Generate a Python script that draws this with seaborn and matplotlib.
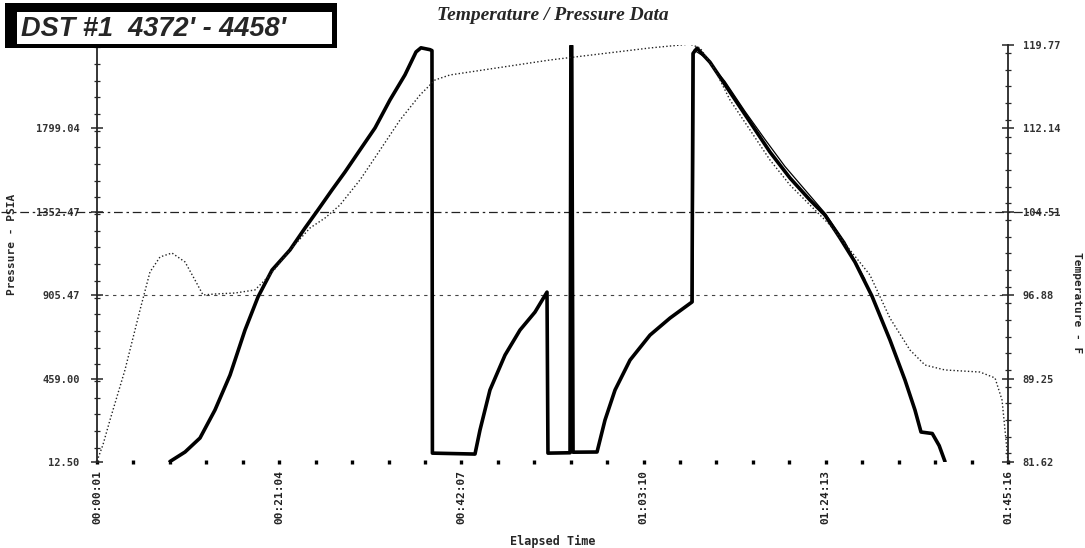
import matplotlib
matplotlib.use("Agg")
import matplotlib.pyplot as plt
import seaborn as sns
import pandas as pd
from matplotlib.patches import Rectangle
from matplotlib.ticker import FixedLocator, MultipleLocator

# ---------------- data (elapsed minutes, psia, deg F) ----------------
time_p = [8.43, 10.17, 11.90, 13.63, 15.37, 17.10, 18.60, 20.22, 22.30, 24.03,
          25.53, 27.15, 28.65, 30.38, 32.12, 33.85, 35.58, 36.86, 37.43, 38.47,
          38.70, 38.75, 43.67, 44.25, 45.40, 47.14, 48.87, 50.60, 51.99, 52.10,
          54.65, 54.75, 54.85, 55.00, 57.77, 58.69, 59.85, 61.58, 63.89, 66.20,
          68.74, 68.86, 69.32, 70.82, 73.13, 75.44, 77.75, 80.06, 82.37, 84.10,
          85.84, 87.57, 89.53, 91.61, 93.35, 94.50, 95.20, 96.50, 97.30, 97.97]
pres = [15, 66, 141, 291, 478, 719, 896, 1040, 1148, 1265,
        1362, 1469, 1565, 1683, 1801, 1951, 2085, 2208, 2230, 2220,
        2215, 60, 55, 184, 398, 585, 719, 815, 922, 60,
        62, 2240, 2240, 65, 66, 237, 398, 558, 692, 783,
        869, 2200, 2228, 2153, 1993, 1833, 1672, 1533, 1415, 1335,
        1212, 1083, 901, 666, 451, 291, 173, 165, 100, 15]

time_p2 = [68.86, 68.97, 70.24, 72.55, 74.86, 77.17, 79.48, 81.79, 84.10, 86.41, 88.72]
pres2 = [869, 2218, 2180, 2050, 1890, 1740, 1595, 1470, 1345, 1190, 990]

time_t = [0.0, 0.69, 1.50, 3.23, 4.97, 6.12, 7.28, 8.66, 10.17, 11.32,
          12.25, 13.63, 15.94, 18.25, 19.99, 22.30, 24.61, 26.34, 28.07, 30.38,
          32.70, 35.01, 37.32, 39.05, 40.78, 52.34, 63.89, 68.51, 69.67, 71.40,
          73.13, 75.44, 77.75, 80.06, 82.37, 84.68, 86.99, 89.30, 91.61, 93.92,
          95.66, 97.97, 102.01, 103.75, 104.56, 105.02, 105.25]
temp = [81.7, 83.2, 85.46, 90.04, 95.53, 99.00, 100.38, 100.74, 99.92, 98.27,
        96.90, 96.99, 97.08, 97.36, 98.73, 101.02, 103.03, 103.94, 105.13, 107.42,
        110.16, 112.91, 115.20, 116.57, 117.03, 118.40, 119.50, 119.85, 119.5, 117.48,
        114.74, 112.0, 109.25, 106.96, 105.13, 103.30, 101.02, 98.73, 94.79, 91.87,
        90.49, 90.04, 89.85, 89.31, 87.29, 83.63, 81.62]

x_ticks = [0, 21.05, 42.10, 63.15, 84.20, 105.25]
x_labels = ["00:00:01", "00:21:04", "00:42:07", "01:03:10", "01:24:13", "01:45:16"]
p_ticks = [12.50, 459.00, 905.50, 1352.00, 1798.50, 2245.00]
p_labels = ["12.50", "459.00", "905.47", "1352.47", "1799.04", ""]
t_ticks = [81.62, 89.25, 96.88, 104.51, 112.14, 119.77]
t_labels = ["81.62", "89.25", "96.88", "104.51", "112.14", "119.77"]

title = "Temperature / Pressure Data"
box_text = "DST #1  4372' - 4458'"
x_title = "Elapsed Time"
p_title = "Pressure - PSIA"
t_title = "Temperature - F"

# ---------------- figure ----------------
sns.set_style("white")
plt.rcParams["font.family"] = ["DejaVu Sans"]
mono = "DejaVu Sans Mono"
W, H = 1085, 548
fig = plt.figure(figsize=(W / 100, H / 100), dpi=100)
ax = fig.add_axes([97 / W, 1 - 462 / H, 911 / W, 417 / H])
ax.set_facecolor("none")
ax2 = ax.twinx()

dfp = pd.DataFrame({"t": time_p, "p": pres})
dfp2 = pd.DataFrame({"t": time_p2, "p": pres2})
dft = pd.DataFrame({"t": time_t, "T": temp})

sns.lineplot(data=dfp, x="t", y="p", ax=ax, sort=False, estimator=None,
             color="black", lw=2.6, zorder=5)
sns.lineplot(data=dfp2, x="t", y="p", ax=ax, sort=False, estimator=None,
             color="black", lw=0.9, zorder=4)
sns.lineplot(data=dft, x="t", y="T", ax=ax2, sort=False, estimator=None,
             color="#222222", lw=1.0, ls=(0, (1, 1.6)), zorder=3)

ax.set_xlim(0, 105.25)
ax.set_ylim(12.5, 2245)
ax2.set_ylim(81.62, 119.77)

# reference lines
ax.axhline(1352.0, xmin=-0.105, xmax=1.055, color="#222222", lw=0.9,
           ls=(0, (7, 3, 2, 3)), clip_on=False, zorder=2)
ax.axhline(905.5, color="#444444", lw=0.8, ls=(0, (3, 4)), zorder=2)

# spines
for a in (ax, ax2):
    a.spines["top"].set_visible(False)
    a.spines["bottom"].set_visible(False)
ax.spines["right"].set_visible(False)
ax2.spines["left"].set_visible(False)
ax.spines["left"].set_linewidth(1.3)
ax2.spines["right"].set_linewidth(1.3)

# ticks
ax.xaxis.set_major_locator(FixedLocator(x_ticks))
ax.set_xticklabels(x_labels, rotation=90, fontsize=8, family=mono,
                   fontweight="bold", color="#222222")
ax.xaxis.set_minor_locator(MultipleLocator(21.05 / 5))
ax.tick_params(axis="x", which="both", bottom=True, direction="inout",
               length=3, width=2.4, pad=4, color="black")

ax.yaxis.set_major_locator(FixedLocator(p_ticks))
ax.set_yticklabels(p_labels, fontsize=7.5, family=mono, fontweight="bold",
                   color="#333333")
ax.yaxis.set_minor_locator(MultipleLocator(446.5 / 5))
ax.tick_params(axis="y", which="major", left=True, direction="inout",
               length=9, width=1.1, pad=8)
ax.tick_params(axis="y", which="minor", left=True, direction="inout",
               length=5, width=0.9)

ax2.yaxis.set_major_locator(FixedLocator(t_ticks))
ax2.set_yticklabels(t_labels, fontsize=7.5, family=mono, fontweight="bold",
                    color="#333333")
ax2.yaxis.set_minor_locator(MultipleLocator(7.63 / 5))
ax2.tick_params(axis="y", which="major", right=True, direction="inout",
                length=9, width=1.1, pad=6)
ax2.tick_params(axis="y", which="minor", right=True, direction="inout",
                length=5, width=0.9)

ax.set_xlabel("")
ax.set_ylabel("")
ax2.set_ylabel("")

# axis titles
fig.text(553 / W, 1 - 541 / H, x_title, ha="center", va="center",
         fontsize=8.5, family=mono, fontweight="bold")
fig.text(12 / W, 1 - 244 / H, p_title, ha="center", va="center", rotation=90,
         fontsize=8, family=mono, fontweight="bold")
fig.text(1077 / W, 1 - 303 / H, t_title, ha="center", va="center", rotation=270,
         fontsize=8, family=mono, fontweight="bold")

# title
fig.text(553 / W, 1 - 15 / H, title, ha="center", va="center", fontsize=14,
         family="Liberation Serif", fontweight="bold", style="italic")

# DST box
fig.patches.append(Rectangle((5 / W, 1 - 48 / H), 332 / W, 45 / H,
                             transform=fig.transFigure, facecolor="black",
                             edgecolor="none", zorder=10))
fig.patches.append(Rectangle((17 / W, 1 - 44 / H), 315 / W, 32 / H,
                             transform=fig.transFigure, facecolor="white",
                             edgecolor="none", zorder=11))
fig.text(21 / W, 1 - 29 / H, box_text, ha="left", va="center", fontsize=19.5,
         family="Liberation Sans", fontweight="bold", style="italic", zorder=12)

fig.savefig("out.png", dpi=100, facecolor="white")
